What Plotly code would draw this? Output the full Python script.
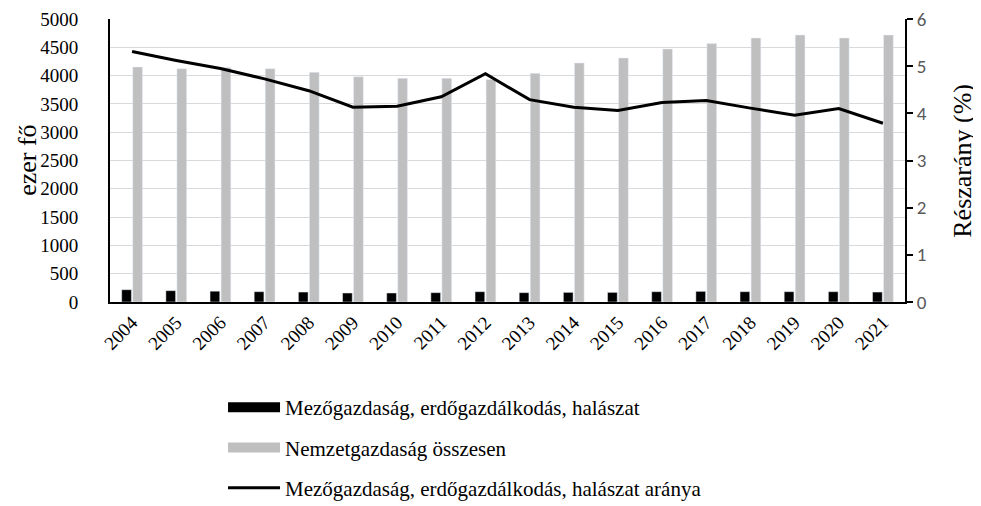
import plotly.graph_objects as go

years = [str(y) for y in range(2004, 2022)]
agri = [217, 200, 191, 182, 176, 159, 159, 165, 182, 165, 170, 170, 182, 188, 182, 182, 182, 176]
total = [4152, 4122, 4145, 4122, 4057, 3980, 3951, 3951, 3930, 4040, 4223, 4311, 4470, 4565, 4664, 4717, 4664, 4717]
share = [5.31, 5.12, 4.95, 4.73, 4.48, 4.13, 4.15, 4.35, 4.84, 4.29, 4.13, 4.06, 4.23, 4.27, 4.11, 3.96, 4.10, 3.79]

name_agri = "Mezőgazdaság, erdőgazdálkodás, halászat"
name_total = "Nemzetgazdaság összesen"
name_share = "Mezőgazdaság, erdőgazdálkodás, halászat aránya"
title_left = "ezer fő"
title_right = "Részarány (%)"

SERIF = "Times New Roman, Liberation Serif, serif"
SANS = "Carlito, Liberation Sans, sans-serif"

fig = go.Figure()
fig.add_trace(go.Bar(x=years, y=agri, name=name_agri, marker_color="#000000",
                     showlegend=False, legendgroup="a"))
fig.add_trace(go.Bar(x=years, y=total, name=name_total, marker_color="#bfbfbf",
                     showlegend=False, legendgroup="b"))
fig.add_trace(go.Scatter(x=years, y=share, name=name_share, mode="lines",
                         line=dict(color="#000000", width=3), yaxis="y2",
                         showlegend=False, legendgroup="c"))
# legend proxies (wide rectangles like the original)
fig.add_trace(go.Scatter(x=[None], y=[None], mode="lines", name=name_agri,
                         line=dict(color="#000000", width=11), legendgroup="a"))
fig.add_trace(go.Scatter(x=[None], y=[None], mode="lines", name=name_total,
                         line=dict(color="#bfbfbf", width=11), legendgroup="b"))
fig.add_trace(go.Scatter(x=[None], y=[None], mode="lines", name=name_share,
                         line=dict(color="#000000", width=3), legendgroup="c"))

fig.update_layout(
    width=973, height=498,
    margin=dict(l=102, r=76, t=11, b=204, autoexpand=False),
    paper_bgcolor="white", plot_bgcolor="white",
    barmode="group", bargap=0.5, bargroupgap=0.12,
    font=dict(family=SERIF, size=19, color="#000000"),
    xaxis=dict(type="category", tickangle=-45, showline=True, linecolor="#000000",
               linewidth=2, ticks="", tickfont=dict(family=SERIF, size=19),
               showgrid=False),
    yaxis=dict(range=[0, 5000], dtick=500, showline=True, linecolor="#000000",
               linewidth=2, ticks="outside", ticklen=26, tickcolor="rgba(0,0,0,0)",
               showgrid=True, gridcolor="#d9d9d9", gridwidth=1,
               tickfont=dict(family=SERIF, size=19), ticklabeloverflow="allow",
               zeroline=False),
    yaxis2=dict(range=[0, 6], dtick=1, overlaying="y", side="right", showline=True,
                linecolor="#000000", linewidth=2, ticks="outside", ticklen=6,
                tickcolor="#000000", tickwidth=2, showgrid=False, zeroline=False,
                tickfont=dict(family=SANS, size=19, color="#595959"),
                ticklabeloverflow="allow"),
    legend=dict(orientation="v", xref="container", yref="container",
                x=0.221, xanchor="left", y=0.239, yanchor="top",
                font=dict(family=SERIF, size=21), itemwidth=52,
                tracegroupgap=10, bgcolor="rgba(0,0,0,0)"),
    annotations=[
        dict(text=title_left, xref="paper", yref="paper", x=-0.104, y=0.5,
             xanchor="center", yanchor="middle", textangle=-90, showarrow=False,
             font=dict(family=SERIF, size=26, color="#000000")),
        dict(text=title_right, xref="paper", yref="paper", x=1.072, y=0.5,
             xanchor="center", yanchor="middle", textangle=-90, showarrow=False,
             font=dict(family=SERIF, size=26, color="#000000")),
    ],
)

fig.write_html("out.html")
